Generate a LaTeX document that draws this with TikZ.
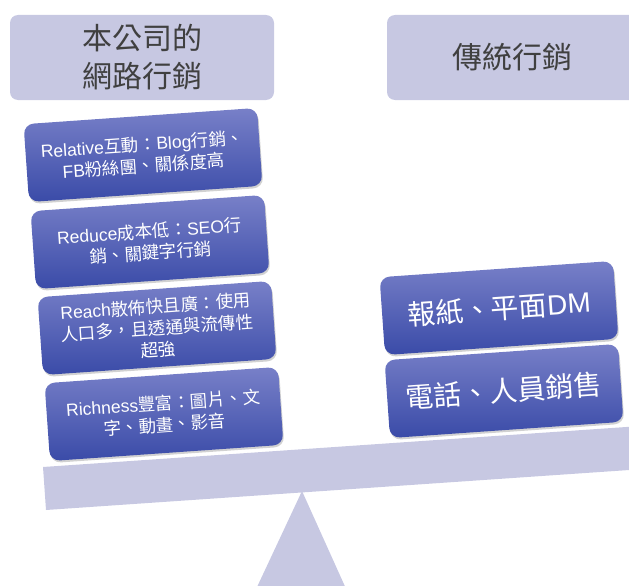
\documentclass[tikz,border=0pt]{standalone}
\usepackage{fontspec}
\setmainfont{Liberation Sans}
\newfontfamily\cjk{Noto Sans CJK TC}
\usetikzlibrary{shadows}
\definecolor{lav}{HTML}{C7C8E2}
\definecolor{btop}{HTML}{7880C8}
\definecolor{bbot}{HTML}{3A4BA8}
\tikzset{
  header/.style={fill=lav, rounded corners=8pt, text=black!75, align=center, inner sep=0pt,
    font=\cjk\fontsize{30}{38}\selectfont},
  tilebox/.style={rounded corners=10pt, top color=btop, bottom color=bbot,
    minimum width=234pt, minimum height=78pt, inner sep=1pt, rotate=4, text=white, align=center,
    font=\fontsize{17.5}{21.5}\selectfont,
    drop shadow={shadow xshift=1pt, shadow yshift=-2pt, opacity=0.3, fill=black!60}},
  bigbox/.style={tilebox, font=\fontsize{28}{32}\selectfont},
  scalepart/.style={fill=lav}
}
\begin{document}
\begin{tikzpicture}[x=1pt,y=-1pt]
\useasboundingbox (0,0) rectangle (629,586);
\clip (0,0) rectangle (629,586);
% headers
\node[header, minimum width=264pt, minimum height=85pt] (lh) at (142,57.5) {本公司的\\網路行銷};
\node[header, minimum width=250pt, minimum height=85pt] (rh) at (512,57.5) {傳統行銷};
% fulcrum and beam
\fill[scalepart] (302,491) -- (352,602) -- (250,602) -- cycle;
\fill[scalepart] (43,467) -- (670,424) -- (673,467) -- (46,510) -- cycle;
% left stack
\node[tilebox] (l1) at (143,155) {Relative{\cjk 互動：}Blog{\cjk 行銷、}\\FB{\cjk 粉絲團、關係度高}};
\node[tilebox] (l2) at (150,242) {Reduce{\cjk 成本低：}SEO{\cjk 行}\\{\cjk 銷、關鍵字行銷}};
\node[tilebox] (l3) at (157,328) {Reach{\cjk 散佈快且廣：使用}\\{\cjk 人口多，且透通與流傳性}\\{\cjk 超強}};
\node[tilebox] (l4) at (164,414) {Richness{\cjk 豐富：圖片、文}\\{\cjk 字、動畫、影音}};
% right stack
\node[bigbox] (r1) at (499,308) {{\cjk 報紙、平面}DM};
\node[bigbox] (r2) at (504,391) {{\cjk 電話、人員銷售}};
\end{tikzpicture}
\end{document}
